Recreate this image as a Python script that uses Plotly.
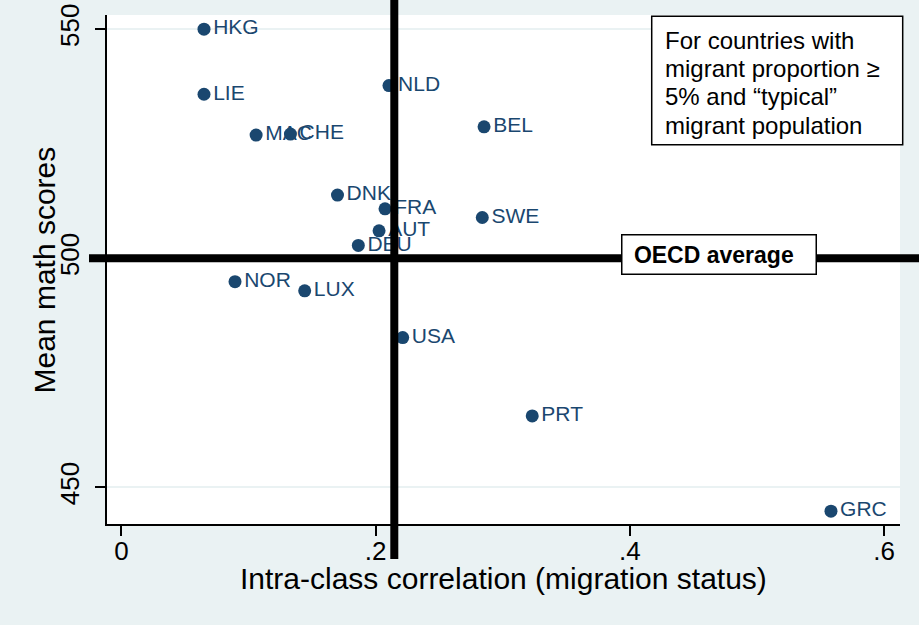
import plotly.graph_objects as go

# ---- data ----
countries = ["HKG", "LIE", "MAC", "CHE", "NLD", "DNK", "FRA", "AUT", "DEU",
             "NOR", "LUX", "BEL", "SWE", "USA", "PRT", "GRC"]
icc = [0.065, 0.065, 0.106, 0.133, 0.2105, 0.170, 0.2074, 0.2027, 0.1864,
       0.0894, 0.1442, 0.2853, 0.2839, 0.2213, 0.3232, 0.5582]
math_scores = [550.0, 535.8, 526.9, 527.1, 537.7, 513.8, 510.8, 506.0, 502.8,
               494.9, 492.9, 528.7, 508.9, 482.7, 465.6, 444.8]
oecd_avg_score = 500
avg_icc = 0.2147
x_tickvals = [0, 0.2, 0.4, 0.6]
x_ticktext = ["0", ".2", ".4", ".6"]
y_tickvals = [450, 500, 550]
note_lines = ["For countries with", "migrant proportion ≥",
              "5% and “typical”", "migrant population"]

NAVY = "#1a476f"
BG = "#EAF2F3"
FONT = "Liberation Sans, Arial, sans-serif"

fig = go.Figure()
fig.add_trace(go.Scatter(
    x=icc, y=math_scores, mode="markers+text", text=countries,
    textposition="middle right",
    marker=dict(color=NAVY, size=13),
    textfont=dict(color=NAVY, size=21, family=FONT),
    cliponaxis=False, showlegend=False,
))

shapes = [
    dict(type="line", xref="x", yref="paper", x0=avg_icc, x1=avg_icc,
         y0=-0.0688, y1=1.0295, line=dict(color="black", width=8), layer="above"),
    dict(type="line", xref="paper", yref="y", x0=-0.0227, x1=1.024,
         y0=oecd_avg_score, y1=oecd_avg_score, line=dict(color="black", width=8), layer="above"),
    dict(type="rect", xref="paper", yref="paper", x0=0.6869, x1=1.0034,
         y0=0.7452, y1=0.9975, fillcolor="white", line=dict(color="black", width=1.5),
         layer="above"),
]

annotations = [
    dict(xref="x", yref="y", x=0.47, y=oecd_avg_score, yshift=4,
         text="&nbsp;<b>OECD average</b>", showarrow=False, align="left",
         font=dict(size=23, color="black", family=FONT),
         bgcolor="white", bordercolor="black", borderwidth=1.5, borderpad=5,
         width=183, height=28),
    dict(xref="paper", yref="paper", x=0.5, y=-0.108, xanchor="center", yanchor="middle",
         text="Intra-class correlation (migration status)", showarrow=False,
         font=dict(size=30, color="black", family=FONT)),
    dict(xref="paper", yref="paper", x=-0.0782, y=0.5, xanchor="center", yanchor="middle",
         text="Mean math scores", textangle=-90, showarrow=False,
         font=dict(size=30, color="black", family=FONT)),
]
for i, line in enumerate(note_lines):
    annotations.append(dict(
        xref="paper", yref="paper", x=0.7012, y=0.9503 - 0.0556 * i,
        xanchor="left", yanchor="middle", text=line, showarrow=False,
        font=dict(size=24, color="black", family=FONT)))

fig.update_layout(
    width=919, height=625,
    margin=dict(l=107, r=19, t=15, b=101),
    paper_bgcolor=BG, plot_bgcolor="white",
    font=dict(family=FONT, color="black"),
    shapes=shapes, annotations=annotations,
    xaxis=dict(range=[-0.0113, 0.6125], tickvals=x_tickvals, ticktext=x_ticktext,
               showgrid=False, zeroline=False, showline=True, linecolor="black", linewidth=1.5,
               ticks="outside", ticklen=10, tickwidth=1.5, tickcolor="black",
               automargin=False, ticklabelstandoff=-7,
               tickfont=dict(size=26, family=FONT, color="black")),
    yaxis=dict(range=[442, 553.1], tickvals=y_tickvals,
               showgrid=True, gridcolor=BG, gridwidth=1.5, zeroline=False,
               showline=True, linecolor="black", linewidth=1.5,
               ticks="outside", ticklen=10, tickwidth=1.5, tickcolor="black",
               tickangle=-90, automargin=False, ticklabelstandoff=6,
               tickfont=dict(size=26, family=FONT, color="black")),
)

fig.write_html("out.html", config={"displayModeBar": False},
               post_script="document.body.style.margin='0';document.body.style.overflow='hidden';")
